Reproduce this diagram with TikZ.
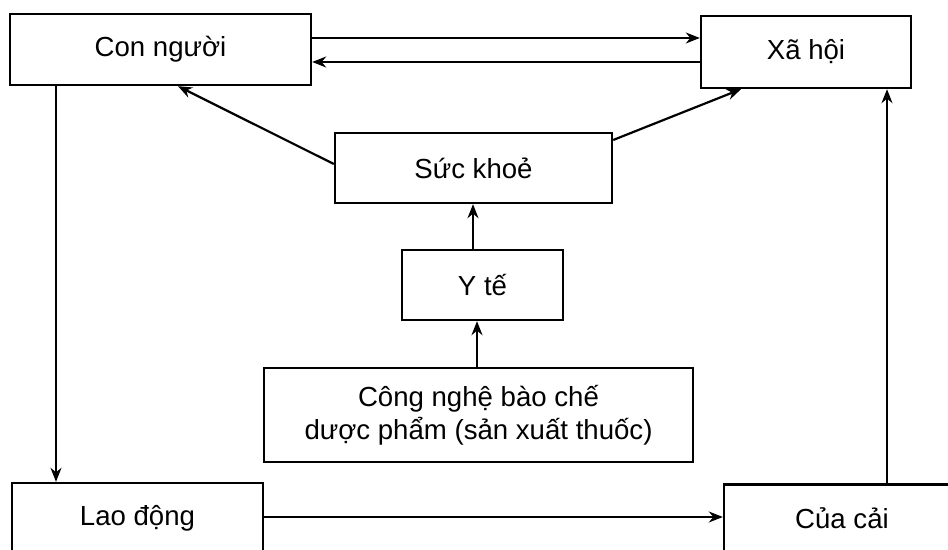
\documentclass[tikz,border=0pt]{standalone}
\usepackage{fontspec}
\setmainfont{Liberation Sans}
\usetikzlibrary{arrows.meta,positioning}

\begin{document}
\begin{tikzpicture}[x=0.5pt,y=-0.5pt,
  every node/.style={font=\fontsize{13.8}{16.5}\selectfont},
  box/.style={draw,line width=1.2pt,inner sep=0pt,align=center},
  arr/.style={-{Stealth[length=7pt,width=5.5pt]},line width=1.1pt}]
\useasboundingbox (0,0) rectangle (948,550);
\node[box,minimum width=150.5pt,minimum height=35.5pt] (con) at (160.5,49.5) {Con người};
\node[box,minimum width=105pt,minimum height=36pt] (xahoi) at (806,52) {Xã hội};
\node[box,minimum width=138.5pt,minimum height=35pt] (suckhoe) at (473.5,168) {Sức khoẻ};
\node[box,minimum width=80.5pt,minimum height=35pt] (yte) at (482.5,285) {Y tế};
\node[box,minimum width=214.5pt,minimum height=47pt] (congnghe) at (478.5,415) {Công nghệ bào chế\\dược phẩm (sản xuất thuốc)};
\node[box,minimum width=125.5pt,minimum height=35pt] (laodong) at (137.5,518) {Lao động};
\node[box,minimum width=118pt,minimum height=34pt] (cuacai) at (842,518.5) {Của cải};
% mũi tên
\draw[arr] (con.east |- 0,38) -- (xahoi.west |- 0,38);
\draw[arr] (xahoi.west |- 0,62) -- (con.east |- 0,62);
\draw[arr] (suckhoe.west |- 0,164) -- (con.south -| 178,0);
\draw[arr] (suckhoe.east |- 0,140) -- (xahoi.south -| 741,0);
\draw[arr] (yte.north -| 473,0) -- (suckhoe.south -| 473,0);
\draw[arr] (congnghe.north -| 477,0) -- (yte.south -| 477,0);
\draw[arr] (con.south -| 56,0) -- (laodong.north -| 56,0);
\draw[arr] (laodong.east |- 0,517) -- (cuacai.west |- 0,517);
\draw[arr] (cuacai.north -| 887,0) -- (xahoi.south -| 887,0);
\end{tikzpicture}
\end{document}
